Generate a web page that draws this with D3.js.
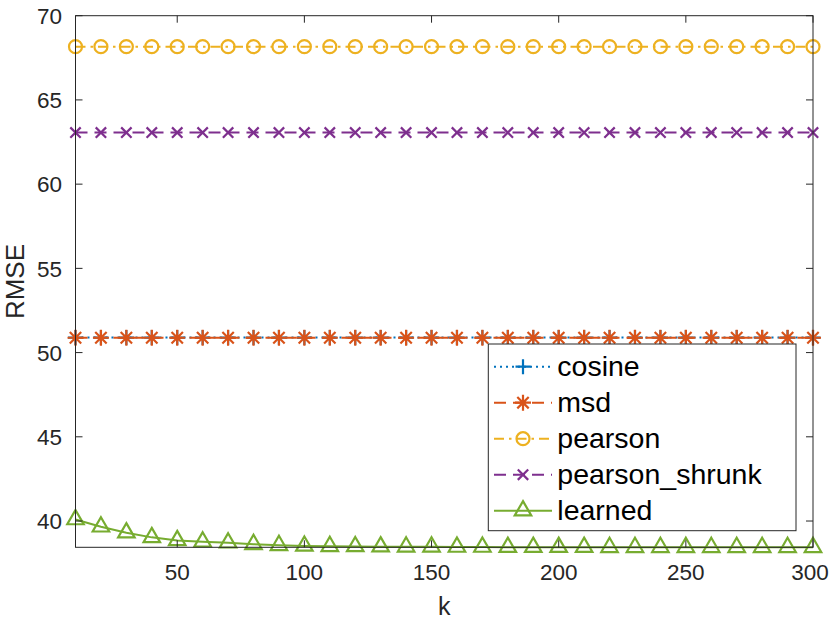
<!DOCTYPE html>
<html>
<head>
<meta charset="utf-8">
<script src="https://cdnjs.cloudflare.com/ajax/libs/d3/7.8.5/d3.min.js"></script>
<style>
  body { margin: 0; background: #fff; }
  text { font-family: "Liberation Sans", Arial, sans-serif; fill: #262626; }
</style>
</head>
<body>
<div id="chart"></div>
<script>
var kValues = [10, 20, 30, 40, 50, 60, 70, 80, 90, 100, 110, 120, 130, 140, 150,
               160, 170, 180, 190, 200, 210, 220, 230, 240, 250, 260, 270, 280, 290, 300];

var cosineData = [50.89, 50.89, 50.89, 50.89, 50.89, 50.89, 50.89, 50.89, 50.89, 50.89,
                  50.89, 50.89, 50.89, 50.89, 50.89, 50.89, 50.89, 50.89, 50.89, 50.89,
                  50.89, 50.89, 50.89, 50.89, 50.89, 50.89, 50.89, 50.89, 50.89, 50.89];
var msdData = [50.88, 50.88, 50.88, 50.88, 50.88, 50.88, 50.88, 50.88, 50.88, 50.88,
               50.88, 50.88, 50.88, 50.88, 50.88, 50.88, 50.88, 50.88, 50.88, 50.88,
               50.88, 50.88, 50.88, 50.88, 50.88, 50.88, 50.88, 50.88, 50.88, 50.88];
var pearsonData = [68.16, 68.16, 68.16, 68.16, 68.16, 68.16, 68.16, 68.16, 68.16, 68.16,
                   68.16, 68.16, 68.16, 68.16, 68.16, 68.16, 68.16, 68.16, 68.16, 68.16,
                   68.16, 68.16, 68.16, 68.16, 68.16, 68.16, 68.16, 68.16, 68.16, 68.16];
var shrunkData = [63.06, 63.06, 63.06, 63.06, 63.06, 63.06, 63.06, 63.06, 63.06, 63.06,
                  63.06, 63.06, 63.06, 63.06, 63.06, 63.06, 63.06, 63.06, 63.06, 63.06,
                  63.06, 63.06, 63.06, 63.06, 63.06, 63.06, 63.06, 63.06, 63.06, 63.06];
var learnedData = [40.09, 39.66, 39.31, 39.03, 38.85, 38.77, 38.71, 38.62, 38.56, 38.52,
                   38.50, 38.49, 38.48, 38.47, 38.47, 38.46, 38.46, 38.45, 38.45, 38.45,
                   38.45, 38.44, 38.44, 38.44, 38.44, 38.44, 38.44, 38.44, 38.44, 38.44];

var seriesNames = ["cosine", "msd", "pearson", "pearson_shrunk", "learned"];
var xTicks = [50, 100, 150, 200, 250, 300];
var yTicks = [40, 45, 50, 55, 60, 65, 70];

var width = 830, height = 623;
var plotLeft = 75.5, plotRight = 813, plotTop = 15.7, plotBottom = 547.3;

var svg = d3.select("#chart").append("svg")
    .attr("width", width)
    .attr("height", height);

var xScale = d3.scaleLinear().domain([10, 300]).range([plotLeft, plotRight]);
var yScale = d3.scaleLinear().domain([38.44, 70]).range([plotBottom, plotTop]);

// series styles (matlab default colours)
var styles = [
    { data: cosineData,  color: "#0072BD", dash: "2,4",        marker: "plus" },
    { data: msdData,     color: "#D95319", dash: "12,7",       marker: "star" },
    { data: pearsonData, color: "#EDB120", dash: "10,5,2.5,5", marker: "circle" },
    { data: shrunkData,  color: "#7E2F8E", dash: "12,7",       marker: "cross" },
    { data: learnedData, color: "#77AC30", dash: null,         marker: "triangle" }
];

function markerPath(type) {
    var p = d3.path();
    if (type === "plus") {
        p.moveTo(-7.5, 0); p.lineTo(7.5, 0); p.moveTo(0, -7.5); p.lineTo(0, 7.5);
    } else if (type === "star") {
        p.moveTo(-8, 0); p.lineTo(8, 0); p.moveTo(0, -8); p.lineTo(0, 8);
        p.moveTo(-5.7, -5.7); p.lineTo(5.7, 5.7); p.moveTo(-5.7, 5.7); p.lineTo(5.7, -5.7);
    } else if (type === "circle") {
        p.arc(0, 0, 6.5, 0, 2 * Math.PI);
    } else if (type === "cross") {
        p.moveTo(-5.2, -5.2); p.lineTo(5.2, 5.2); p.moveTo(-5.2, 5.2); p.lineTo(5.2, -5.2);
    } else if (type === "triangle") {
        var s = 16.5, h = s * Math.sqrt(3) / 2;
        p.moveTo(0, -2 * h / 3); p.lineTo(s / 2, h / 3); p.lineTo(-s / 2, h / 3); p.closePath();
    }
    return p.toString();
}

var lineFunction = d3.line()
    .x(function (d, i) { return xScale(kValues[i]); })
    .y(function (d) { return yScale(d); });

var plot = svg.append("g");

styles.forEach(function (st) {
    plot.append("path")
        .attr("d", lineFunction(st.data))
        .attr("fill", "none")
        .attr("stroke", st.color)
        .attr("stroke-width", 2)
        .attr("stroke-dasharray", st.dash);

    plot.selectAll(null)
        .data(st.data)
        .enter().append("path")
        .attr("transform", function (d, i) {
            return "translate(" + xScale(kValues[i]) + "," + yScale(d) + ")";
        })
        .attr("d", markerPath(st.marker))
        .attr("fill", "none")
        .attr("stroke", st.color)
        .attr("stroke-width", 2.2);
});

// axes box and ticks
var axisColor = "#262626";
svg.append("rect")
    .attr("x", plotLeft).attr("y", plotTop)
    .attr("width", plotRight - plotLeft).attr("height", plotBottom - plotTop)
    .attr("fill", "none")
    .attr("stroke", axisColor)
    .attr("stroke-width", 1);

var tickLen = 7;
xTicks.forEach(function (t) {
    var x = xScale(t);
    svg.append("line").attr("x1", x).attr("x2", x).attr("y1", plotBottom).attr("y2", plotBottom - tickLen)
        .attr("stroke", axisColor);
    svg.append("line").attr("x1", x).attr("x2", x).attr("y1", plotTop).attr("y2", plotTop + tickLen)
        .attr("stroke", axisColor);
    svg.append("text")
        .attr("x", Math.min(x, 810)).attr("y", 580)
        .attr("text-anchor", "middle")
        .attr("font-size", "22.5px")
        .text(t);
});

yTicks.forEach(function (t) {
    var y = yScale(t);
    svg.append("line").attr("x1", plotLeft).attr("x2", plotLeft + tickLen).attr("y1", y).attr("y2", y)
        .attr("stroke", axisColor);
    svg.append("line").attr("x1", plotRight).attr("x2", plotRight - tickLen).attr("y1", y).attr("y2", y)
        .attr("stroke", axisColor);
    svg.append("text")
        .attr("x", 62).attr("y", y + 8.2)
        .attr("text-anchor", "end")
        .attr("font-size", "22.5px")
        .text(t);
});

svg.append("text")
    .attr("transform", "translate(24," + ((plotTop + plotBottom) / 2) + ") rotate(-90)")
    .attr("text-anchor", "middle")
    .attr("font-size", "26px")
    .text("RMSE");

svg.append("text")
    .attr("x", (plotLeft + plotRight) / 2).attr("y", 615)
    .attr("text-anchor", "middle")
    .attr("font-size", "25px")
    .text("k");

// legend
var legend = svg.append("g");
legend.append("rect")
    .attr("x", 488.3).attr("y", 344)
    .attr("width", 796 - 488.3).attr("height", 530.7 - 344)
    .attr("fill", "#fff")
    .attr("stroke", axisColor)
    .attr("stroke-width", 1);

styles.forEach(function (st, i) {
    var cy = 366.7 + i * 36;
    legend.append("line")
        .attr("x1", 494).attr("x2", 552).attr("y1", cy).attr("y2", cy)
        .attr("stroke", st.color)
        .attr("stroke-width", 2)
        .attr("stroke-dasharray", st.dash);
    legend.append("path")
        .attr("transform", "translate(523," + cy + ")")
        .attr("d", markerPath(st.marker))
        .attr("fill", "none")
        .attr("stroke", st.color)
        .attr("stroke-width", 2.2);
    legend.append("text")
        .attr("x", 557.3).attr("y", cy + 9.5)
        .attr("font-size", "28.5px")
        .style("fill", "#000")
        .text(seriesNames[i]);
});
</script>
</body>
</html>
